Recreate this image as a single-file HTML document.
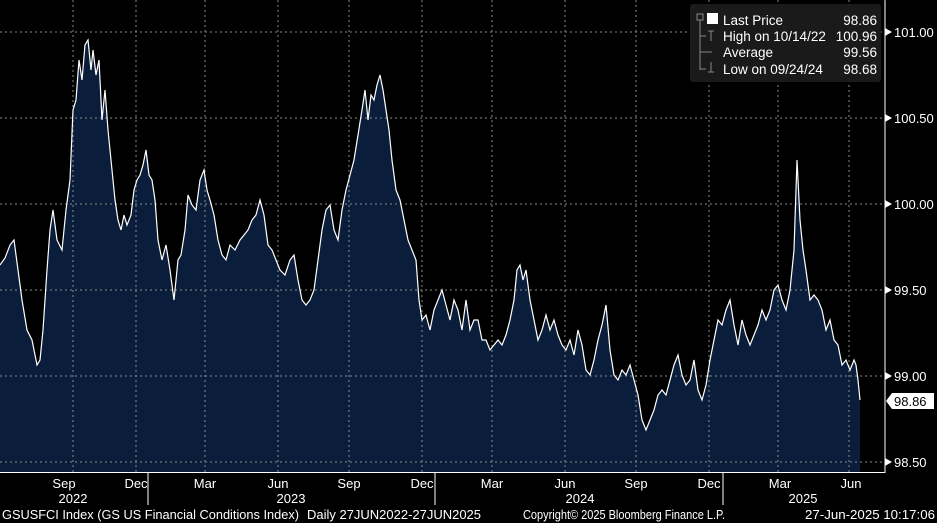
<!DOCTYPE html>
<html><head><meta charset="utf-8"><style>
body{margin:0;background:#000;width:937px;height:523px;overflow:hidden;font-family:"Liberation Sans",sans-serif;}
</style></head><body>
<svg width="937" height="523" xmlns="http://www.w3.org/2000/svg" style="position:absolute;left:0;top:0">
<rect width="937" height="523" fill="#000"/>
<polygon fill="#0a1e3c" points="0,472 0,265 5,258 10,245 14,240 18,270 22,300 27,330 32,340 37,365 40,360 43,330 47,270 50,230 53,210 57,240 62,250 66,210 70,180 73,110 76,100 79,60 82,80 85,45 88,40 91,70 93,50 96,75 99,60 102,120 105,90 108,130 112,170 115,200 118,220 121,230 124,215 127,225 131,215 134,190 137,180 140,175 143,165 146,150 149,175 152,180 155,200 158,240 162,260 166,245 170,270 174,300 178,260 181,255 185,230 188,195 192,205 196,210 200,180 204,170 207,190 210,200 214,215 218,240 222,255 226,260 230,245 235,250 240,240 244,235 248,230 252,220 256,215 260,200 264,215 268,245 272,250 276,260 280,270 285,275 290,260 294,255 298,280 302,300 306,305 310,300 314,290 318,260 322,230 326,210 330,205 334,230 338,240 342,210 346,190 350,175 354,160 358,135 362,110 365,90 368,120 371,95 374,100 377,85 380,75 383,90 386,110 389,130 392,160 396,190 400,200 404,220 408,240 412,250 416,260 419,300 422,320 426,315 430,330 434,310 438,300 442,290 446,305 450,320 454,300 458,310 462,330 466,300 470,330 474,320 478,320 482,340 486,340 490,350 494,345 498,340 502,345 506,335 510,320 514,300 517,270 520,265 523,280 526,270 530,300 534,320 538,340 542,330 546,315 550,330 554,320 558,335 562,345 566,350 570,340 574,355 578,330 582,345 586,370 590,375 594,360 598,340 602,325 606,305 610,350 614,375 618,380 622,370 626,375 630,365 634,380 638,395 642,420 646,430 650,420 654,410 658,395 662,390 666,395 670,380 674,365 678,355 682,375 686,385 690,380 694,360 698,390 702,400 706,385 710,360 714,340 718,320 722,325 726,310 730,300 734,325 738,345 742,320 746,335 750,345 754,335 758,325 762,310 766,320 770,310 774,290 778,285 782,300 786,310 790,290 794,250 797,160 800,220 803,250 806,270 810,300 814,295 818,300 822,310 826,330 830,320 834,340 838,345 842,365 846,360 850,370 854,360 856,365 858,380 860,400 860,472"/>
<g stroke="#8a8a8a" stroke-width="1" stroke-dasharray="2,3" fill="none">
<line x1="0" y1="32" x2="884" y2="32"/><line x1="0" y1="118" x2="884" y2="118"/><line x1="0" y1="204" x2="884" y2="204"/><line x1="0" y1="290" x2="884" y2="290"/><line x1="0" y1="376" x2="884" y2="376"/><line x1="0" y1="462" x2="884" y2="462"/>
<line x1="73" y1="0" x2="73" y2="472"/><line x1="136" y1="0" x2="136" y2="472"/><line x1="205" y1="0" x2="205" y2="472"/><line x1="278" y1="0" x2="278" y2="472"/><line x1="349" y1="0" x2="349" y2="472"/><line x1="422" y1="0" x2="422" y2="472"/><line x1="492" y1="0" x2="492" y2="472"/><line x1="565" y1="0" x2="565" y2="472"/><line x1="636" y1="0" x2="636" y2="472"/><line x1="709" y1="0" x2="709" y2="472"/><line x1="778" y1="0" x2="778" y2="472"/><line x1="849" y1="0" x2="849" y2="472"/>
</g>
<polyline fill="none" stroke="#fff" stroke-width="1.2" points="0,265 5,258 10,245 14,240 18,270 22,300 27,330 32,340 37,365 40,360 43,330 47,270 50,230 53,210 57,240 62,250 66,210 70,180 73,110 76,100 79,60 82,80 85,45 88,40 91,70 93,50 96,75 99,60 102,120 105,90 108,130 112,170 115,200 118,220 121,230 124,215 127,225 131,215 134,190 137,180 140,175 143,165 146,150 149,175 152,180 155,200 158,240 162,260 166,245 170,270 174,300 178,260 181,255 185,230 188,195 192,205 196,210 200,180 204,170 207,190 210,200 214,215 218,240 222,255 226,260 230,245 235,250 240,240 244,235 248,230 252,220 256,215 260,200 264,215 268,245 272,250 276,260 280,270 285,275 290,260 294,255 298,280 302,300 306,305 310,300 314,290 318,260 322,230 326,210 330,205 334,230 338,240 342,210 346,190 350,175 354,160 358,135 362,110 365,90 368,120 371,95 374,100 377,85 380,75 383,90 386,110 389,130 392,160 396,190 400,200 404,220 408,240 412,250 416,260 419,300 422,320 426,315 430,330 434,310 438,300 442,290 446,305 450,320 454,300 458,310 462,330 466,300 470,330 474,320 478,320 482,340 486,340 490,350 494,345 498,340 502,345 506,335 510,320 514,300 517,270 520,265 523,280 526,270 530,300 534,320 538,340 542,330 546,315 550,330 554,320 558,335 562,345 566,350 570,340 574,355 578,330 582,345 586,370 590,375 594,360 598,340 602,325 606,305 610,350 614,375 618,380 622,370 626,375 630,365 634,380 638,395 642,420 646,430 650,420 654,410 658,395 662,390 666,395 670,380 674,365 678,355 682,375 686,385 690,380 694,360 698,390 702,400 706,385 710,360 714,340 718,320 722,325 726,310 730,300 734,325 738,345 742,320 746,335 750,345 754,335 758,325 762,310 766,320 770,310 774,290 778,285 782,300 786,310 790,290 794,250 797,160 800,220 803,250 806,270 810,300 814,295 818,300 822,310 826,330 830,320 834,340 838,345 842,365 846,360 850,370 854,360 856,365 858,380 860,400"/>
<line x1="885" y1="0" x2="885" y2="473" stroke="#fff"/>
<line x1="0" y1="472.5" x2="885" y2="472.5" stroke="#fff"/>
<g stroke="#fff"><line x1="148" y1="473" x2="148" y2="505"/><line x1="435" y1="473" x2="435" y2="505"/><line x1="723" y1="473" x2="723" y2="505"/></g>
<g fill="#fff" font-size="13">
<polygon points="885,28 892,32 885,36"/><text x="894" y="37">101.00</text>
<polygon points="885,114 892,118 885,122"/><text x="894" y="123">100.50</text>
<polygon points="885,200 892,204 885,208"/><text x="894" y="209">100.00</text>
<polygon points="885,286 892,290 885,294"/><text x="894" y="295">99.50</text>
<polygon points="885,372 892,376 885,380"/><text x="894" y="381">99.00</text>
<polygon points="885,458 892,462 885,466"/><text x="894" y="467">98.50</text>
</g>
<polygon points="886,401 892,393 934,393 934,409 892,409" fill="#fff"/>
<text x="894" y="406" font-size="13" fill="#000">98.86</text>
<g fill="#fff" font-size="13" text-anchor="middle">
<text x="64" y="488">Sep</text><text x="136" y="488">Dec</text><text x="205" y="488">Mar</text><text x="278" y="488">Jun</text><text x="349" y="488">Sep</text><text x="422" y="488">Dec</text><text x="492" y="488">Mar</text><text x="565" y="488">Jun</text><text x="636" y="488">Sep</text><text x="709" y="488">Dec</text><text x="780" y="488">Mar</text><text x="851" y="488">Jun</text>
<text x="73" y="503">2022</text><text x="291" y="503">2023</text><text x="580" y="503">2024</text><text x="803" y="503">2025</text>
</g>
<g fill="#fff" font-size="12.5">
<text x="2" y="519" textLength="297" lengthAdjust="spacingAndGlyphs">GSUSFCI Index (GS US Financial Conditions Index)</text>
<text x="307" y="519" textLength="174" lengthAdjust="spacingAndGlyphs">Daily 27JUN2022-27JUN2025</text>
<text x="523" y="519" textLength="202" lengthAdjust="spacingAndGlyphs">Copyright© 2025 Bloomberg Finance L.P.</text>
<text x="805" y="519" textLength="130" lengthAdjust="spacingAndGlyphs">27-Jun-2025 10:17:06</text>
</g>
<rect x="690" y="4" width="191" height="78" rx="3" fill="#1a1a1a"/>
<rect x="707" y="13" width="11" height="11" fill="#fff"/>
<g stroke="#888" fill="none"><rect x="697" y="14" width="6" height="6"/><line x1="700" y1="20" x2="700" y2="70"/><line x1="700" y1="36" x2="706" y2="36"/><line x1="700" y1="52" x2="712" y2="52"/><line x1="700" y1="69" x2="706" y2="69"/><line x1="708" y1="31" x2="714" y2="31"/><line x1="711" y1="31" x2="711" y2="41"/><line x1="711" y1="62" x2="711" y2="72"/><line x1="708" y1="72" x2="714" y2="72"/></g>
<g fill="#fff" font-size="13.5">
<text x="723" y="25">Last Price</text><text x="877" y="25" text-anchor="end">98.86</text>
<text x="723" y="41">High on 10/14/22</text><text x="877" y="41" text-anchor="end">100.96</text>
<text x="723" y="57">Average</text><text x="877" y="57" text-anchor="end">99.56</text>
<text x="723" y="74">Low on 09/24/24</text><text x="877" y="74" text-anchor="end">98.68</text>
</g>
</svg>
</body></html>
